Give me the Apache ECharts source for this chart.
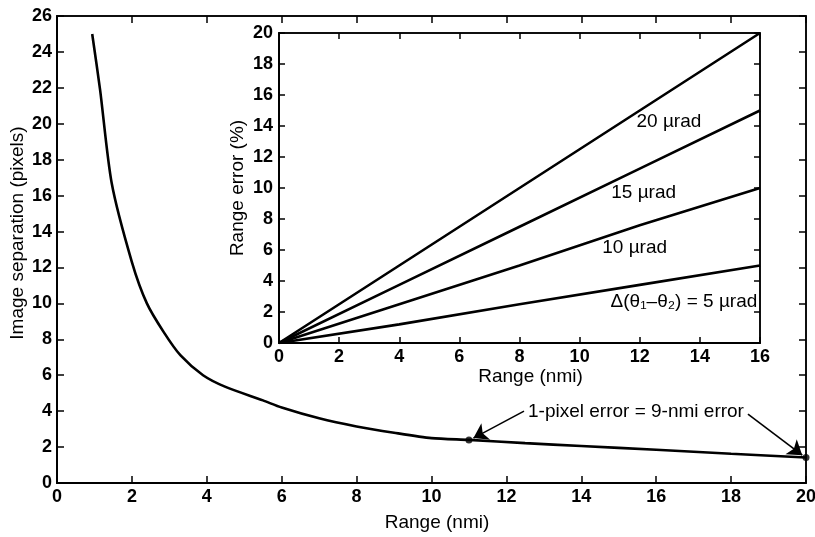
<!DOCTYPE html>
<html>
<head>
<meta charset="utf-8">
<script src="https://cdn.jsdelivr.net/npm/echarts@6/dist/echarts.min.js"></script>
<style>
html,body{margin:0;padding:0;background:#fff;}
#c{width:815px;height:537px;}
</style>
</head>
<body>
<div id="c"></div>
<script>
// ---- Main chart data ----
const rangeMain = [0.94, 1.15, 1.46, 2.0, 2.4, 2.85, 3.3, 3.9, 4.5, 5.5, 6.0, 7.0, 8.0, 9.0, 10.0, 11.0, 12.5, 14.0, 16.0, 18.0, 20.0];
const separation = [25.0, 21.9, 16.7, 12.3, 10.0, 8.4, 7.1, 6.0, 5.35, 4.6, 4.2, 3.6, 3.15, 2.8, 2.5, 2.4, 2.22, 2.06, 1.85, 1.63, 1.42];
const markedRange = [11.0, 20.0];
const markedSep = [2.4, 1.42];
const mainXTicks = [0, 20, 2];
const mainYTicks = [0, 26, 2];

// ---- Inset data ----
const rangeInset = [0, 4, 8, 12, 16];
const err20 = [0, 5.0, 10.0, 15.0, 20.0];
const err15 = [0, 3.75, 7.5, 11.25, 15.0];
const err10 = [0, 2.5, 5.0, 7.6, 10.0];
const err5 = [0, 1.2, 2.5, 3.75, 5.0];
const insetXTicks = [0, 16, 2];
const insetYTicks = [0, 20, 2];
const insetLabels = ['20 µrad', '15 µrad', '10 µrad', 'Δ(θ₁–θ₂) = 5 µrad'];
const annotationText = '1-pixel error = 9-nmi error';

const FONT = "'Liberation Sans', Arial, Helvetica, sans-serif";
const zip = (a, b) => a.map((v, i) => [v, b[i]]);
const tickLabel = (margin, size) => ({ color: '#000', fontFamily: FONT, fontSize: size, fontWeight: 'bold', margin: margin });

function axisBase(extra) {
  return Object.assign({
    type: 'value',
    splitLine: { show: false },
    nameMoveOverlap: false,
    axisLine: { show: true, onZero: false, lineStyle: { color: '#000', width: 2 } },
    axisTick: { show: true, inside: true, length: 7, lineStyle: { color: '#000', width: 1.5 } },
    axisLabel: tickLabel(6, 18),
    nameTextStyle: { color: '#000', fontFamily: FONT, fontSize: 19 }
  }, extra);
}
function mirror(extra) {
  return axisBase(Object.assign({ axisLabel: { show: false },
    axisLine: { show: true, onZero: false, lineStyle: { color: '#000', width: 1.5 } } }, extra));
}
const insetTick = { show: true, inside: true, length: 6, lineStyle: { color: '#000', width: 1.5 } };

const chart = echarts.init(document.getElementById('c'), null, { renderer: 'canvas' });
const lineStyleMain = { color: '#000', width: 2.6 };

const option = {
  backgroundColor: '#fff',
  animation: false,
  grid: [
    { left: 57, top: 16, width: 749, height: 467, show: true, borderColor: '#000', borderWidth: 1.5, backgroundColor: '#fff',
      containLabel: false, outerBoundsMode: 'none' },
    { left: 279, top: 33, width: 481, height: 310, show: true, borderColor: '#000', borderWidth: 1.5, backgroundColor: '#fff', z: 5,
      containLabel: false, outerBoundsMode: 'none' }
  ],
  xAxis: [
    axisBase({ gridIndex: 0, min: mainXTicks[0], max: mainXTicks[1], interval: mainXTicks[2], position: 'bottom',
      name: 'Range (nmi)', nameLocation: 'middle', nameGap: 30,
      nameTextStyle: { color: '#000', fontFamily: FONT, fontSize: 19, padding: [0, 0, 0, 11] },
      axisLabel: tickLabel(5, 18) }),
    mirror({ gridIndex: 0, min: mainXTicks[0], max: mainXTicks[1], interval: mainXTicks[2], position: 'top' }),
    axisBase({ gridIndex: 1, min: insetXTicks[0], max: insetXTicks[1], interval: insetXTicks[2], position: 'bottom',
      name: 'Range (nmi)', nameLocation: 'middle', nameGap: 24, z: 6,
      nameTextStyle: { color: '#000', fontFamily: FONT, fontSize: 19, padding: [0, 0, 0, 22] },
      axisTick: insetTick, axisLabel: tickLabel(5, 18) }),
    mirror({ gridIndex: 1, min: insetXTicks[0], max: insetXTicks[1], interval: insetXTicks[2], position: 'top', z: 6,
      axisTick: insetTick })
  ],
  yAxis: [
    axisBase({ gridIndex: 0, min: mainYTicks[0], max: mainYTicks[1], interval: mainYTicks[2], position: 'left',
      name: 'Image separation (pixels)', nameLocation: 'middle', nameGap: 30,
      nameTextStyle: { color: '#000', fontFamily: FONT, fontSize: 19, padding: [0, 0, 0, 33] },
      axisLabel: tickLabel(5, 18) }),
    mirror({ gridIndex: 0, min: mainYTicks[0], max: mainYTicks[1], interval: mainYTicks[2], position: 'right' }),
    axisBase({ gridIndex: 1, min: insetYTicks[0], max: insetYTicks[1], interval: insetYTicks[2], position: 'left',
      name: 'Range error (%)', nameLocation: 'middle', nameGap: 32, z: 6,
      axisTick: insetTick, axisLabel: tickLabel(6, 18) }),
    mirror({ gridIndex: 1, min: insetYTicks[0], max: insetYTicks[1], interval: insetYTicks[2], position: 'right', z: 6,
      axisTick: insetTick })
  ],
  series: [
    {
      type: 'line', xAxisIndex: 0, yAxisIndex: 0, data: zip(rangeMain, separation),
      showSymbol: false, smooth: 0.25, lineStyle: lineStyleMain,
      markLine: {
        silent: true, symbol: ['none', 'arrow'], symbolSize: 14,
        lineStyle: { color: '#000', width: 1.6, type: 'solid' }, itemStyle: { color: '#000' }, label: { show: false },
        data: [
          [{ coord: [12.47, 4.0] }, { coord: [11.12, 2.5] }],
          [{ coord: [18.45, 3.84] }, { coord: [19.9, 1.55] }]
        ]
      },
      markPoint: {
        silent: true, symbol: 'circle', symbolSize: 0,
        label: { show: true, position: 'inside', color: '#000', fontFamily: FONT, fontSize: 19 },
        data: [{ coord: [15.46, 3.95], value: annotationText, label: { formatter: annotationText } }]
      }
    },
    {
      type: 'scatter', xAxisIndex: 0, yAxisIndex: 0, data: zip(markedRange, markedSep),
      symbol: 'circle', symbolSize: 7, itemStyle: { color: '#000' }, z: 4
    },
    { type: 'line', xAxisIndex: 2, yAxisIndex: 2, data: zip(rangeInset, err20), showSymbol: false, lineStyle: lineStyleMain, z: 7 },
    { type: 'line', xAxisIndex: 2, yAxisIndex: 2, data: zip(rangeInset, err15), showSymbol: false, lineStyle: lineStyleMain, z: 7 },
    { type: 'line', xAxisIndex: 2, yAxisIndex: 2, data: zip(rangeInset, err10), showSymbol: false, lineStyle: lineStyleMain, z: 7 },
    {
      type: 'line', xAxisIndex: 2, yAxisIndex: 2, data: zip(rangeInset, err5), showSymbol: false, lineStyle: lineStyleMain, z: 7,
      markPoint: {
        silent: true, symbol: 'circle', symbolSize: 0,
        label: { show: true, position: 'inside', color: '#000', fontFamily: FONT, fontSize: 19 },
        data: [
          { coord: [12.97, 14.26], label: { formatter: insetLabels[0] } },
          { coord: [12.13, 9.68], label: { formatter: insetLabels[1] } },
          { coord: [11.83, 6.13], label: { formatter: insetLabels[2] } },
          { coord: [13.47, 2.65], label: { formatter: insetLabels[3] } }
        ]
      }
    }
  ]
};
chart.setOption(option);
</script>
</body>
</html>
